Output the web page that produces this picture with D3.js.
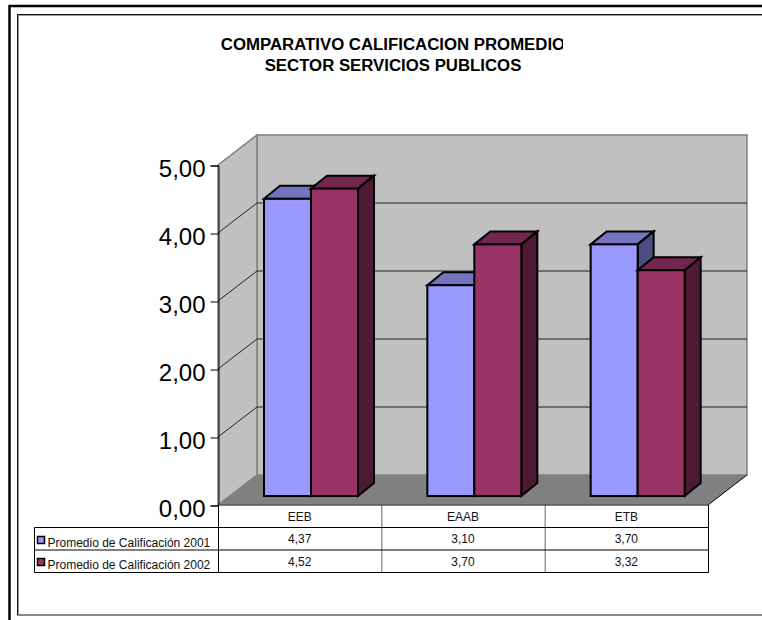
<!DOCTYPE html>
<html>
<head>
<meta charset="utf-8">
<script src="https://cdn.jsdelivr.net/npm/d3@7"></script>
<style>
html, body { margin: 0; padding: 0; background: #fff; }
svg { display: block; font-family: "Liberation Sans", Arial, sans-serif; }
</style>
</head>
<body>
<svg id="chart" width="762" height="620"></svg>
<script>
const titleLines = ["COMPARATIVO CALIFICACION PROMEDIO", "SECTOR SERVICIOS PUBLICOS"];
const categories = ["EEB", "EAAB", "ETB"];
const seriesNames = ["Promedio de Calificación 2001", "Promedio de Calificación 2002"];
const values2001 = [4.37, 3.10, 3.70];
const values2002 = [4.52, 3.70, 3.32];
const yTicks = [0, 1, 2, 3, 4, 5];
const seriesFront = ["#9999FF", "#993366"];
const seriesTop = ["#7373BF", "#73264D"];
const seriesSide = ["#4D4D80", "#4D1A33"];

const fmt = v => v.toFixed(2).replace(".", ",");
const svg = d3.select("#chart");

// Outer page rules
svg.append("rect").attr("x", 9.5).attr("y", 6).attr("width", 800).attr("height", 700)
  .attr("fill", "none").attr("stroke", "#000").attr("stroke-width", 2.5);
svg.append("rect").attr("x", 17.5).attr("y", 14.5).attr("width", 800).attr("height", 600.5)
  .attr("fill", "#fff").attr("stroke", "#111").attr("stroke-width", 1);
svg.append("path").attr("d", "M18.5,615V15.5H762").attr("fill", "none").attr("stroke", "#999");

// Title, cut off by its own box on the right
svg.append("clipPath").attr("id", "titleClip").append("rect")
  .attr("x", 200).attr("y", 30).attr("width", 363).attr("height", 50);
svg.append("g").attr("clip-path", "url(#titleClip)")
  .selectAll("text").data(titleLines).join("text")
  .attr("x", 393).attr("y", (d, i) => 50 + i * 21)
  .attr("text-anchor", "middle").attr("font-size", 16.8).attr("font-weight", "bold")
  .attr("fill", "#000").text(d => d);

// Scales for the front plane of the 3D box
const y = d3.scaleLinear().domain([0, 5]).range([505, 165]);
const x = d3.scaleBand().domain(categories).range([218, 708]);
const depth = { dx: 39, dy: -30 };
const barDepth = { dx: 16, dy: -13 };
const barShift = { dx: 12, dy: -9 };
const barW = 47;
const barOffset = 34;

const poly = pts => pts.map(p => p.join(",")).join(" ");
const x0 = x.range()[0], x1 = x.range()[1];

// Walls and floor
svg.append("polygon").attr("fill", "#C0C0C0").attr("stroke", "#808080").attr("stroke-width", 1.5)
  .attr("points", poly([[x0 + depth.dx, y(5) + depth.dy], [x1 + depth.dx, y(5) + depth.dy],
    [x1 + depth.dx, y(0) + depth.dy], [x0 + depth.dx, y(0) + depth.dy]]));
svg.append("polygon").attr("fill", "#C0C0C0").attr("stroke", "#808080").attr("stroke-width", 1.5)
  .attr("points", poly([[x0, y(5)], [x0 + depth.dx, y(5) + depth.dy],
    [x0 + depth.dx, y(0) + depth.dy], [x0, y(0)]]));
svg.append("polygon").attr("fill", "#808080")
  .attr("points", poly([[x0, y(0)], [x0 + depth.dx, y(0) + depth.dy],
    [x1 + depth.dx, y(0) + depth.dy], [x1, y(0)]]));
svg.append("line").attr("stroke", "#000")
  .attr("x1", x1).attr("y1", y(0)).attr("x2", x1 + depth.dx).attr("y2", y(0) + depth.dy);

// Gridlines across side and back walls
svg.append("g").selectAll("polyline").data(yTicks.slice(1, 5)).join("polyline")
  .attr("fill", "none").attr("stroke", "#222").attr("stroke-width", 1)
  .attr("points", d => poly([[x0, y(d)], [x0 + depth.dx, y(d) + depth.dy], [x1 + depth.dx, y(d) + depth.dy]]));

// Value axis
const axis = d3.axisLeft(y).tickValues(yTicks).tickFormat(fmt).tickSize(8).tickPadding(5);
const axisG = svg.append("g").attr("transform", `translate(${x0 + 0.5},0.5)`).call(axis);
axisG.selectAll("text").attr("font-size", 24).attr("font-family", "'Liberation Sans', Arial, sans-serif")
  .attr("fill", "#000").attr("dy", "0.46em");
axisG.selectAll("line, path").attr("stroke", "#000");

// Bars as extruded boxes
function drawBar(cat, val, s) {
  const left = x(cat) + barOffset + barShift.dx + s * barW;
  const right = left + barW;
  const base = y(0) + barShift.dy;
  const top = base - (y(0) - y(val));
  const g = svg.append("g").attr("stroke", "#000").attr("stroke-width", 2).attr("stroke-linejoin", "miter");
  g.append("polygon").attr("fill", seriesTop[s]).attr("points", poly([[left, top], [left + barDepth.dx, top + barDepth.dy],
    [right + barDepth.dx, top + barDepth.dy], [right, top]]));
  g.append("polygon").attr("fill", seriesSide[s]).attr("points", poly([[right, top], [right + barDepth.dx, top + barDepth.dy],
    [right + barDepth.dx, base + barDepth.dy], [right, base]]));
  g.append("rect").attr("fill", seriesFront[s]).attr("x", left).attr("y", top).attr("width", barW).attr("height", base - top);
}
categories.forEach((c, i) => {
  drawBar(c, values2001[i], 0);
  drawBar(c, values2002[i], 1);
});

// Data table under the chart
const rowY = [505, 527.5, 550, 572.5];
const tableLeft = 34.5;
const table = svg.append("g");
table.append("rect").attr("x", x0 + 0.5).attr("y", rowY[0] - 0.5).attr("width", x1 - x0).attr("height", rowY[3] - rowY[0])
  .attr("fill", "#fff").attr("stroke", "none");
table.selectAll("line.v").data(categories.slice(1)).join("line")
  .attr("x1", d => x(d) + 0.5).attr("x2", d => x(d) + 0.5).attr("y1", rowY[0]).attr("y2", rowY[3])
  .attr("stroke", "#666");
[[x0, x1, rowY[0]]].concat(rowY.slice(1).map(r => [tableLeft, x1, r])).forEach(([a, b, r]) => {
  table.append("line").attr("x1", a).attr("x2", b + 0.5).attr("y1", r).attr("y2", r).attr("stroke", "#000");
});
[[x0 + 0.5, rowY[0], rowY[3]], [x1 + 0.5, rowY[0], rowY[3]], [tableLeft, rowY[1], rowY[3]]].forEach(([a, b, c]) => {
  table.append("line").attr("x1", a).attr("x2", a).attr("y1", b).attr("y2", c).attr("stroke", "#000");
});
table.selectAll("text.cat").data(categories).join("text")
  .attr("x", d => x(d) + x.bandwidth() / 2).attr("y", 521).attr("text-anchor", "middle")
  .attr("font-size", 12).attr("fill", "#111").text(d => d);
[values2001, values2002].forEach((vals, s) => {
  table.selectAll(null).data(vals).join("text")
    .attr("x", (d, i) => x(categories[i]) + x.bandwidth() / 2).attr("y", 543 + s * 23)
    .attr("text-anchor", "middle").attr("font-size", 12).attr("fill", "#111").text(fmt);
  table.append("rect").attr("x", 37.5).attr("y", 536.5 + s * 22).attr("width", 7).attr("height", 7)
    .attr("fill", seriesFront[s]).attr("stroke", "#000").attr("stroke-width", 1.5);
  table.append("text").attr("x", 47.5).attr("y", 547 + s * 22)
    .attr("font-size", 12).attr("fill", "#111").text(seriesNames[s]);
});
</script>
</body>
</html>
